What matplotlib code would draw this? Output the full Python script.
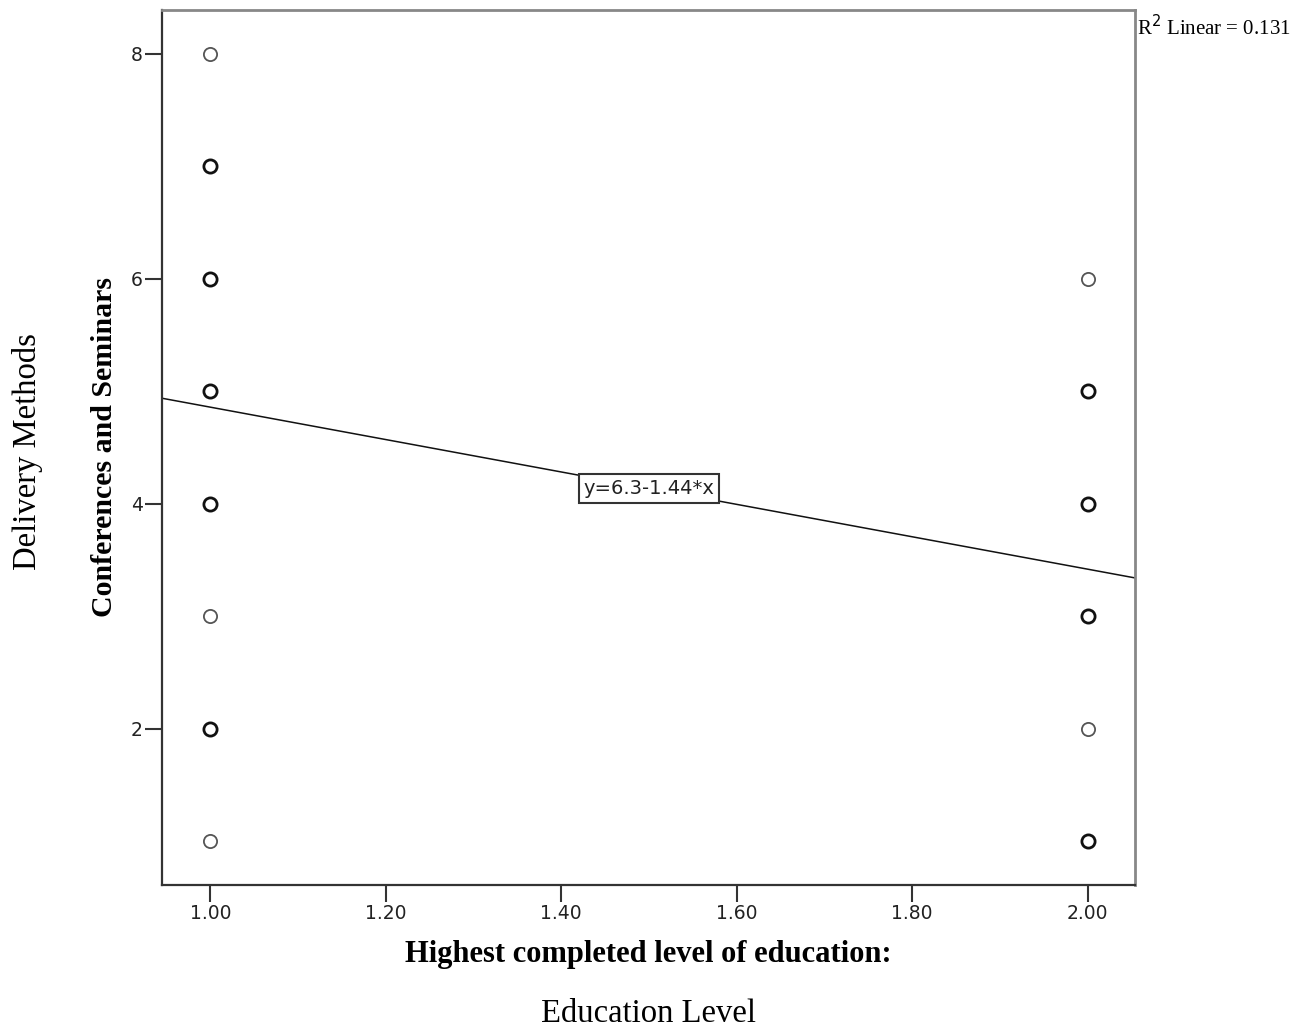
"""Scatter of conference/seminar score against education level, with linear fit."""

from collections import Counter

import matplotlib
matplotlib.use("Agg")
import matplotlib.pyplot as plt
import numpy as np

# education level (1 or 2) and conferences/seminars score, one entry per case
education = [1, 1, 1, 1, 1, 1, 1, 1, 1, 1, 1, 1, 1,
             2, 2, 2, 2, 2, 2, 2, 2, 2, 2]
conferences = [8, 7, 7, 6, 6, 5, 4, 4, 3, 2, 2, 1, 5,
               6, 5, 5, 4, 4, 3, 3, 2, 1, 1]

intercept = 6.3
slope = -1.44
r_squared = 0.131

x_ticks = [1.0, 1.2, 1.4, 1.6, 1.8, 2.0]
y_ticks = [2, 4, 6, 8]

fig = plt.figure(figsize=(13.15, 10.3), dpi=100)
ax = fig.add_axes([0.1232, 0.1408, 0.7399, 0.8495])

# overlapping cases show up as a darker, thicker ring
counts = Counter(zip(education, conferences))
for (xv, yv), n in counts.items():
    if n > 1:
        ax.plot(xv, yv, "o", ms=9.5, mfc="none", mec="#111111", mew=2.0, zorder=3)
    else:
        ax.plot(xv, yv, "o", ms=9.5, mfc="none", mec="#555555", mew=1.3, zorder=3)

ax.set_xlim(0.945, 2.054)
ax.set_ylim(0.613, 8.39)

# fit line across the whole plot area
xs = np.array(ax.get_xlim())
ax.plot(xs, intercept + slope * xs, color="#111111", lw=1.1, zorder=2)

mid = 1.5
ax.text(mid, intercept + slope * mid, "y=6.3-1.44*x", ha="center", va="center",
        fontsize=14, family="DejaVu Sans", color="#222222", zorder=4,
        bbox=dict(boxstyle="square,pad=0.25", fc="white", ec="#333333", lw=1.5))

ax.set_xticks(x_ticks)
ax.set_xticklabels([f"{v:.2f}" for v in x_ticks])
ax.set_yticks(y_ticks)
ax.tick_params(axis="both", length=12, width=1.5, color="#333333",
               labelsize=13.5, labelcolor="#222222", pad=2)

for side in ("left", "bottom"):
    ax.spines[side].set_color("#333333")
    ax.spines[side].set_linewidth(1.6)
for side in ("top", "right"):
    ax.spines[side].set_color("#888888")
    ax.spines[side].set_linewidth(2.0)

ax.set_xlabel("Highest completed level of education:", family="Liberation Serif",
              fontweight="bold", fontsize=22, labelpad=12)
ax.set_ylabel("Conferences and Seminars", family="Liberation Serif",
              fontweight="bold", fontsize=21.5, labelpad=9)

fig.text(0.8646, 0.973, f"R$^2$ Linear = {r_squared}", family="Liberation Serif",
         fontsize=15, ha="left", va="center")
fig.text(0.493, 0.016, "Education Level", family="Liberation Serif",
         fontsize=23.5, ha="center", va="center")
fig.text(0.021, 0.562, "Delivery Methods", family="Liberation Serif",
         fontsize=23.5, ha="center", va="center", rotation=90)

fig.savefig("out.png", dpi=100)
